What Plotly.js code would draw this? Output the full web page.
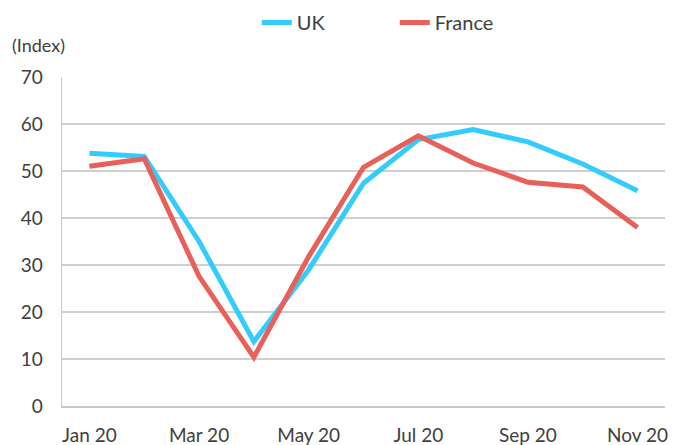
<!DOCTYPE html>
<html>
<head>
<meta charset="utf-8">
<script src="https://cdn.plot.ly/plotly-3.0.1.min.js"></script>
<style>html,body{margin:0;padding:0;background:#fff;}#chart{width:673px;height:445px;}</style>
</head>
<body>
<div id="chart"></div>
<script>
const months = ["Jan 20","Feb 20","Mar 20","Apr 20","May 20","Jun 20","Jul 20","Aug 20","Sep 20","Oct 20","Nov 20"];
const tickLabels = ["Jan 20","Mar 20","May 20","Jul 20","Sep 20","Nov 20"];
const yTicks = [0,10,20,30,40,50,60,70];
const ukValues = [53.8, 53.1, 35.0, 13.7, 29.0, 47.4, 56.7, 58.8, 56.2, 51.5, 45.8];
const franceValues = [51.0, 52.6, 27.6, 10.4, 31.8, 50.8, 57.5, 51.7, 47.6, 46.6, 38.0];

const traces = [
  {x: months, y: ukValues, name: "UK", type: "scatter", mode: "lines",
   line: {color: "#33CCFF", width: 5}},
  {x: months, y: franceValues, name: "France", type: "scatter", mode: "lines",
   line: {color: "#E8605A", width: 5}}
];

const layout = {
  width: 673, height: 445,
  margin: {l: 62, r: 8, t: 77, b: 39},
  paper_bgcolor: "#fff", plot_bgcolor: "#fff",
  font: {family: "Lato, sans-serif", size: 19, color: "#404040"},
  showlegend: true,
  legend: {orientation: "h", x: 0.323, xanchor: "left", y: 0.993, yref: "container", yanchor: "top",
           entrywidth: 93, entrywidthmode: "pixels",
           font: {family: "Lato, sans-serif", size: 20, color: "#404040"}, itemwidth: 30, tracegroupgap: 0},
  xaxis: {type: "category", categoryorder: "array", categoryarray: months,
          range: [-0.5, 10.5], tickvals: tickLabels, ticktext: tickLabels,
          showgrid: false, showline: true, linecolor: "#c8c8c8", linewidth: 1.5,
          ticks: "", ticklabelstandoff: 12, zeroline: false, fixedrange: true},
  yaxis: {range: [0, 70], tickvals: yTicks, showgrid: true, gridcolor: "#cfcfcf", gridwidth: 1.2,
          showline: true, linecolor: "#c8c8c8", linewidth: 1.5, zeroline: false,
          ticks: "", ticklabelstandoff: 14, fixedrange: true},
  annotations: [{text: "(Index)", xref: "paper", yref: "paper", x: -0.087, y: 1.098,
                 xanchor: "left", yanchor: "middle", showarrow: false,
                 font: {family: "Lato, sans-serif", size: 18, color: "#404040"}}]
};

Plotly.newPlot("chart", traces, layout, {displayModeBar: false, staticPlot: true});
</script>
</body>
</html>
